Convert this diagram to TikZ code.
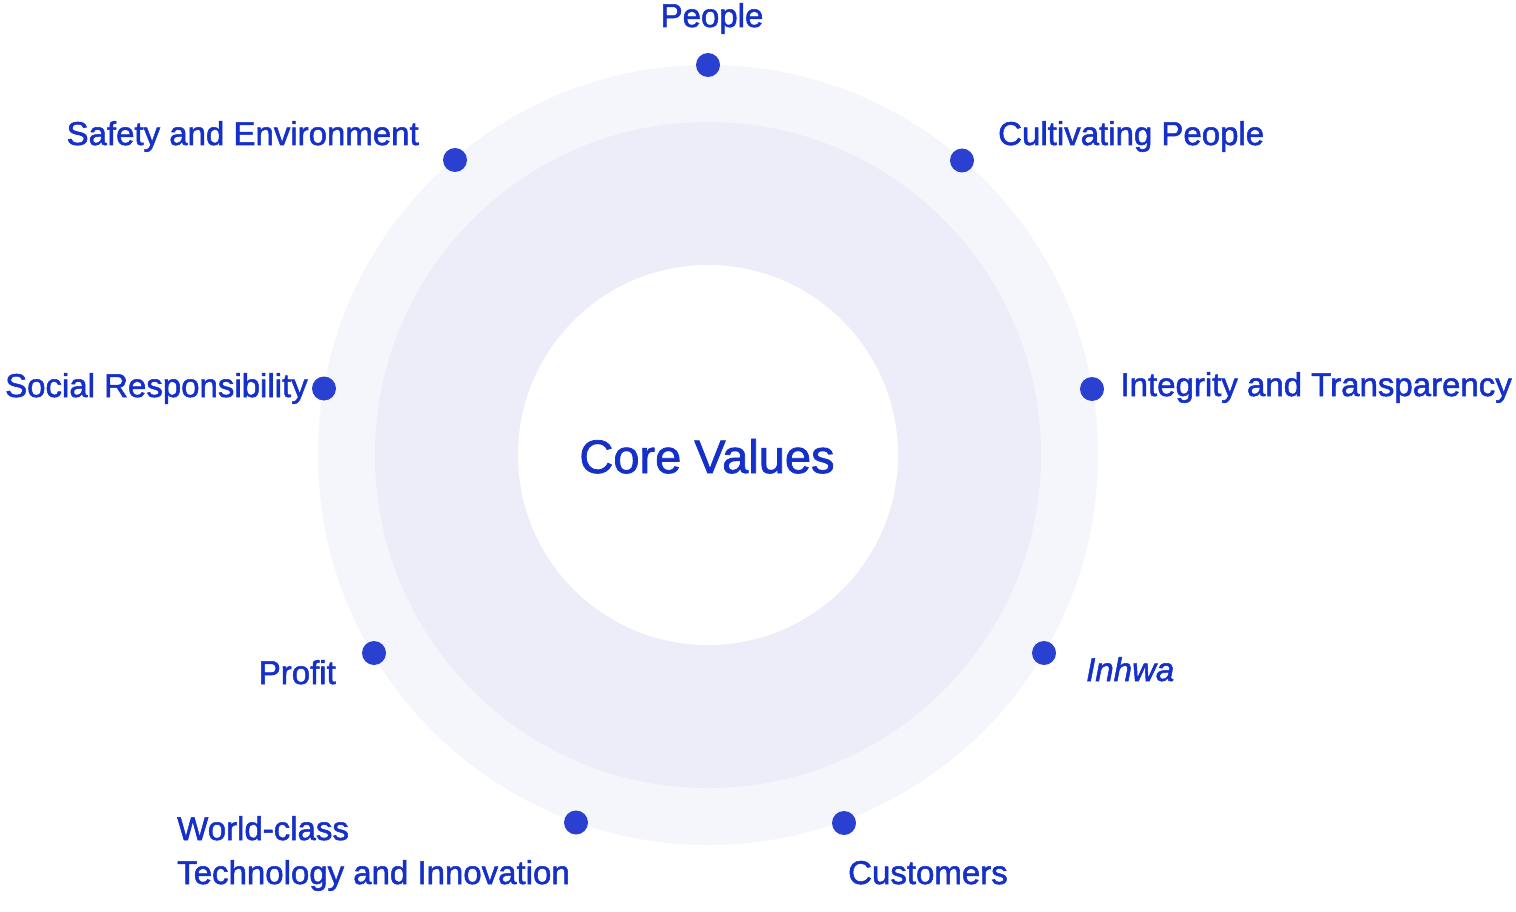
\documentclass[tikz,border=0pt]{standalone}
\usepackage{fontspec}
\setmainfont{Liberation Sans}[RawFeature={embolden=1.6}]
\definecolor{txtblue}{HTML}{1530C8}
\definecolor{dotblue}{HTML}{2A40D0}
\definecolor{ringout}{HTML}{F5F6FB}
\definecolor{ringmid}{HTML}{ECEDF9}
\tikzset{
  lbl/.style={inner sep=0pt, text=txtblue, font=\fontsize{33}{40}\selectfont},
  dotnode/.style={circle, fill=dotblue, minimum size=24pt, inner sep=0pt},
}
\begin{document}
\begin{tikzpicture}[x=1pt,y=-1pt]
\useasboundingbox (0,0) rectangle (1516,912);
\fill[white] (0,0) rectangle (1516,912);
\coordinate (c) at (708,455);
\fill[ringout] (c) circle[radius=390pt];
\fill[ringmid] (c) circle[radius=333pt];
\fill[white] (c) circle[radius=190pt];
\node[lbl, anchor=base, font=\fontsize{47}{56}\selectfont] (core) at (707,473) {Core Values};
% dots
\node[dotnode] (d1) at (708,65) {};
\node[dotnode] (d2) at (962,160.5) {};
\node[dotnode] (d3) at (1092,389) {};
\node[dotnode] (d4) at (1044,653) {};
\node[dotnode] (d5) at (844,823) {};
\node[dotnode] (d6) at (576,822.5) {};
\node[dotnode] (d7) at (374,653) {};
\node[dotnode] (d8) at (324,388.5) {};
\node[dotnode] (d9) at (455,160) {};
% labels
\node[lbl, anchor=base] (l1) at (712,27) {People};
\node[lbl, anchor=base west] (l2) at (998,145) {Cultivating People};
\node[lbl, anchor=base east] (l3) at (1512,396) {Integrity and Transparency};
\node[lbl, anchor=base west, font=\fontsize{33}{40}\selectfont\itshape] (l4) at (1086,681) {Inhwa};
\node[lbl, anchor=base west] (l5) at (848,884) {Customers};
\node[lbl, anchor=base west] (l6a) at (177,840) {World-class};
\node[lbl, anchor=base west] (l6b) at (177,884) {Technology and Innovation};
\node[lbl, anchor=base east] (l7) at (336,684) {Profit};
\node[lbl, anchor=base east] (l8) at (308,397) {Social Responsibility};
\node[lbl, anchor=base east] (l9) at (419,145) {Safety and Environment};
\end{tikzpicture}
\end{document}
